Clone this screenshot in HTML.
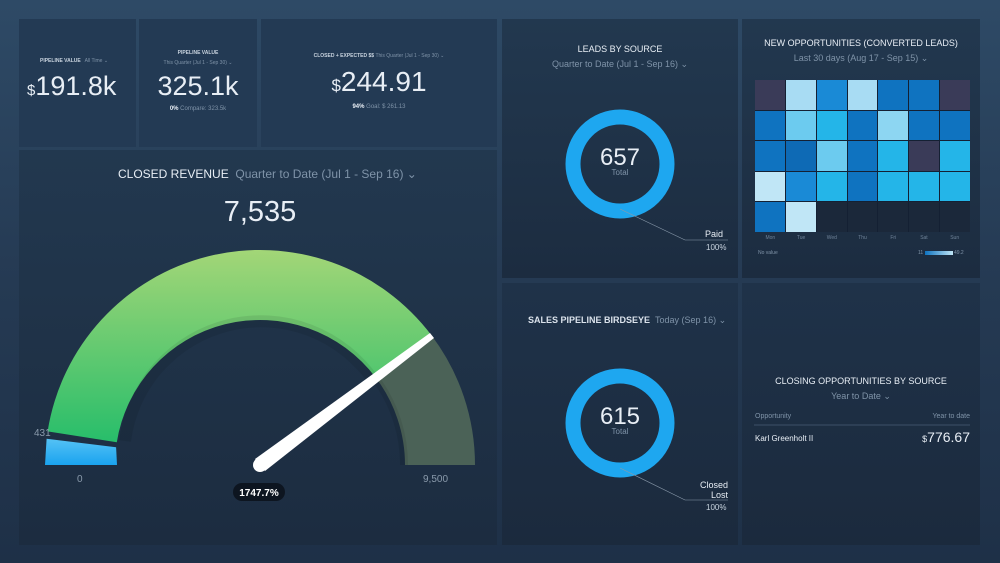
<!DOCTYPE html>
<html><head><meta charset="utf-8"><style>
*{margin:0;padding:0;box-sizing:border-box}
body{width:1000px;height:563px;overflow:hidden;background:linear-gradient(180deg,#2e4a66 0%,#253a53 50%,#1e3047 100%);font-family:"Liberation Sans",sans-serif;color:#e8eef5;position:relative}
.p{position:absolute;background:linear-gradient(180deg,#22384f,#1c2c40)}
.t{position:absolute;white-space:nowrap}
.g{color:#7f93a8}
.c{text-align:center}
</style></head><body>
<div class="p" style="left:19px;top:19px;width:117px;height:128px;background:#233a54"></div>
<div class="p" style="left:139px;top:19px;width:118px;height:128px;background:#233a54"></div>
<div class="p" style="left:261px;top:19px;width:236px;height:128px;background:#233a54"></div>
<div class="p" style="left:19px;top:150px;width:478px;height:395px"></div>
<div class="p" style="left:502px;top:19px;width:236px;height:259px"></div>
<div class="p" style="left:742px;top:19px;width:238px;height:259px"></div>
<div class="p" style="left:502px;top:283px;width:236px;height:262px;background:linear-gradient(180deg,#1f3249,#1b2a3d)"></div>
<div class="p" style="left:742px;top:283px;width:238px;height:262px;background:linear-gradient(180deg,#1f3249,#1b2a3d)"></div>

<!-- KPI 1 -->
<div class="t" style="left:40px;top:58px;font-size:5px;font-weight:bold;color:#c8d3de">PIPELINE VALUE <span class="g" style="font-weight:normal">&nbsp; All Time ⌄</span></div>
<div class="t" style="left:27px;top:71px;font-size:27px;font-weight:300"><span style="font-size:15px">$</span>191.8k</div>
<!-- KPI 2 -->
<div class="t c" style="left:139px;width:118px;top:50px;font-size:5px;font-weight:bold;color:#c8d3de">PIPELINE VALUE</div>
<div class="t c g" style="left:139px;width:118px;top:60px;font-size:5px">This Quarter (Jul 1 - Sep 30) ⌄</div>
<div class="t c" style="left:139px;width:118px;top:71px;font-size:27px;font-weight:300">325.1k</div>
<div class="t c" style="left:139px;width:118px;top:106px;font-size:6px"><b>0%</b> <span class="g">Compare: 323.5k</span></div>
<!-- KPI 3 -->
<div class="t c" style="left:261px;width:236px;top:53px;font-size:5px;font-weight:bold;color:#c8d3de">CLOSED + EXPECTED $$ <span class="g" style="font-weight:normal">This Quarter (Jul 1 - Sep 30) ⌄</span></div>
<div class="t c" style="left:261px;width:236px;top:66px;font-size:28px;font-weight:300"><span style="font-size:17px">$</span>244.91</div>
<div class="t c" style="left:261px;width:236px;top:104px;font-size:6px"><b>94%</b> <span class="g">Goal: $ 261.13</span></div>

<!-- Closed revenue -->
<div class="t" style="left:118px;top:167px;font-size:12px;color:#e8eef5">CLOSED REVENUE &nbsp;<span class="g">Quarter to Date (Jul 1 - Sep 16) ⌄</span></div>
<div class="t c" style="left:160px;width:200px;top:196px;font-size:29px;font-weight:300">7,535</div>
<svg style="position:absolute;left:0;top:0" width="1000" height="563">
<defs><linearGradient id="gg" x1="0" y1="250" x2="0" y2="465" gradientUnits="userSpaceOnUse"><stop offset="0" stop-color="#a3d677"/><stop offset="1" stop-color="#19bb69"/></linearGradient>
<linearGradient id="bb" x1="0" y1="0" x2="0" y2="1"><stop offset="0" stop-color="#55c2f5"/><stop offset="1" stop-color="#1aa3ef"/></linearGradient></defs>
<path d="M45,465 L46.6,438.8 L116.1,447.3 L117,465 Z" fill="url(#bb)"/>
<path d="M47.6,431.4 A215,215 0 0 1 431.7,335.6 L375.8,377.7 A145,145 0 0 0 116.8,442.3 Z" fill="url(#gg)"/>
<path d="M125,441 A137,137 0 0 1 374,381" fill="none" stroke="#000" stroke-opacity="0.08" stroke-width="12"/>
<path d="M431.7,335.6 A215,215 0 0 1 475,465 L405,465 A145,145 0 0 0 375.8,377.7 Z" fill="#4b6257"/>
<path d="M404,465 A144,144 0 0 0 378,382" fill="none" stroke="#000" stroke-opacity="0.08" stroke-width="8"/>
<polygon points="255,459 430,333 434,338 265,471" fill="#fff"/>
<circle cx="260" cy="465" r="7" fill="#fff"/>
<text x="34" y="436" font-size="10" fill="#8a9aab" font-family="Liberation Sans">431</text>
<text x="77" y="482" font-size="10" fill="#8a9aab" font-family="Liberation Sans">0</text>
<text x="423" y="482" font-size="10" fill="#8a9aab" font-family="Liberation Sans">9,500</text>
<rect x="233" y="483" width="52" height="18" rx="9" fill="#0d1520"/>
<text x="259" y="496" font-size="10" font-weight="bold" fill="#fff" text-anchor="middle" font-family="Liberation Sans">1747.7%</text>
<!-- donuts -->
<circle cx="620" cy="164" r="47" fill="none" stroke="#1ea7f0" stroke-width="15"/>
<line x1="620" y1="209" x2="685" y2="240" stroke="#8a9aab" stroke-width="0.6"/><line x1="685" y1="240" x2="728" y2="240" stroke="#8a9aab" stroke-width="0.6"/>
<circle cx="620" cy="423" r="47" fill="none" stroke="#1ea7f0" stroke-width="15"/>
<line x1="620" y1="468" x2="685" y2="500" stroke="#8a9aab" stroke-width="0.6"/><line x1="685" y1="500" x2="728" y2="500" stroke="#8a9aab" stroke-width="0.6"/>
<line x1="754" y1="425" x2="970" y2="425" stroke="#3d5068" stroke-width="1"/>
</svg>
<div class="t c" style="left:502px;width:236px;top:44px;font-size:9px">LEADS BY SOURCE</div>
<div class="t c g" style="left:502px;width:236px;top:59px;font-size:9px">Quarter to Date (Jul 1 - Sep 16) ⌄</div>
<div class="t c" style="left:570px;width:100px;top:144px;font-size:24px;font-weight:300">657</div>
<div class="t c g" style="left:570px;width:100px;top:168px;font-size:8px">Total</div>
<div class="t" style="left:705px;top:229px;font-size:9px">Paid</div>
<div class="t" style="left:706px;top:243px;font-size:8px;color:#c8d3de">100%</div>

<div class="t" style="left:528px;top:315px;font-size:9px;font-weight:bold;color:#dbe3ec">SALES PIPELINE BIRDSEYE <span class="g" style="font-weight:normal">&nbsp;Today (Sep 16) ⌄</span></div>
<div class="t c" style="left:570px;width:100px;top:403px;font-size:24px;font-weight:300">615</div>
<div class="t c g" style="left:570px;width:100px;top:427px;font-size:8px">Total</div>
<div class="t" style="left:700px;top:480px;font-size:9px;text-align:right;line-height:10px">Closed<br>&nbsp;&nbsp;&nbsp;&nbsp;Lost</div>
<div class="t" style="left:706px;top:503px;font-size:8px;color:#c8d3de">100%</div>

<div class="t c" style="left:742px;width:238px;top:376px;font-size:9px">CLOSING OPPORTUNITIES BY SOURCE</div>
<div class="t c g" style="left:742px;width:238px;top:391px;font-size:9px">Year to Date ⌄</div>
<div class="t g" style="left:755px;top:413px;font-size:7px">Opportunity</div>
<div class="t g" style="left:920px;top:413px;font-size:7px;width:50px;text-align:right">Year to date</div>
<div class="t" style="left:755px;top:434px;font-size:8px">Karl Greenholt II</div>
<div class="t" style="left:900px;top:429px;font-size:14px;width:70px;text-align:right;font-weight:300"><span style="font-size:9px">$</span>776.67</div>

<div class="t c" style="left:742px;width:238px;top:38px;font-size:9px">NEW OPPORTUNITIES (CONVERTED LEADS)</div>
<div class="t c g" style="left:742px;width:238px;top:53px;font-size:9px">Last 30 days (Aug 17 - Sep 15) ⌄</div>
<div style="position:absolute;left:755px;top:80px;width:215px;height:152px;display:grid;grid-template-columns:repeat(7,1fr);grid-template-rows:repeat(5,1fr);gap:1px;background:#142033">
<i style="background:#3a3b58"></i><i style="background:#a8dcf3"></i><i style="background:#1a8ad6"></i><i style="background:#a8dcf3"></i><i style="background:#0f73c0"></i><i style="background:#0f73c0"></i><i style="background:#3a3b58"></i>
<i style="background:#0f73c0"></i><i style="background:#6ccbef"></i><i style="background:#24b5e8"></i><i style="background:#0f73c0"></i><i style="background:#8dd6f2"></i><i style="background:#0f73c0"></i><i style="background:#0f73c0"></i>
<i style="background:#0f73c0"></i><i style="background:#0e6ab5"></i><i style="background:#6ccbef"></i><i style="background:#0f73c0"></i><i style="background:#24b5e8"></i><i style="background:#3a3b58"></i><i style="background:#24b5e8"></i>
<i style="background:#c0e6f6"></i><i style="background:#1a8ad6"></i><i style="background:#24b5e8"></i><i style="background:#0f73c0"></i><i style="background:#24b5e8"></i><i style="background:#24b5e8"></i><i style="background:#24b5e8"></i>
<i style="background:#0f73c0"></i><i style="background:#c0e6f6"></i><i style="background:#1b283a"></i><i style="background:#1b283a"></i><i style="background:#1b283a"></i><i style="background:#1b283a"></i><i style="background:#1b283a"></i>
</div>
<div style="position:absolute;left:755px;top:235px;width:215px;display:flex;font-size:5px;color:#6f8398">
<span style="flex:1;text-align:center">Mon</span><span style="flex:1;text-align:center">Tue</span><span style="flex:1;text-align:center">Wed</span><span style="flex:1;text-align:center">Thu</span><span style="flex:1;text-align:center">Fri</span><span style="flex:1;text-align:center">Sat</span><span style="flex:1;text-align:center">Sun</span></div>
<div class="t g" style="left:758px;top:250px;font-size:5px">No value</div>
<div class="t g" style="left:918px;top:250px;font-size:5px">11 <span style="display:inline-block;width:28px;height:4px;background:linear-gradient(90deg,#0f73c0,#c0e6f6);vertical-align:middle"></span> 49.2</div>
</body></html>
